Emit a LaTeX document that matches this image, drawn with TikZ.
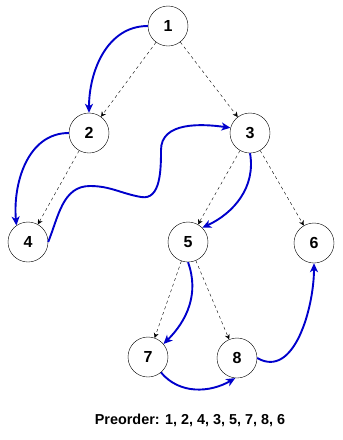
\documentclass[tikz,border=0pt]{standalone}
\usepackage{fontspec}
\setmainfont{Liberation Sans}
\usepackage{tikz}
\usetikzlibrary{arrows.meta}
\definecolor{trvblue}{HTML}{0000CC}
\definecolor{trvink}{HTML}{000000}
\tikzset{
  vtx/.style={circle,draw=trvink,thin,fill=white,minimum size=40pt,inner sep=0pt,
              font=\fontsize{16}{18}\selectfont\bfseries,text=trvink},
  treee/.style={-{Stealth[length=5pt,width=5pt]},thin,dashed,draw=trvink},
  visite/.style={-{Stealth[length=9pt,width=8pt,inset=2.5pt]},line width=1.9pt,draw=trvblue},
  caption/.style={font=\fontsize{14.4}{16}\selectfont\bfseries,text=trvink},
}

\begin{document}
\begin{tikzpicture}[x=1pt,y=-1pt]
  \useasboundingbox (0,0) rectangle (343,440);

  % ---- nodes ----
  \node[vtx] (n1) at (168,26)  {1};
  \node[vtx] (n2) at (89,133)  {2};
  \node[vtx] (n3) at (250,133) {3};
  \node[vtx] (n4) at (28,242)  {4};
  \node[vtx] (n5) at (188,242) {5};
  \node[vtx] (n6) at (314,243) {6};
  \node[vtx] (n7) at (148,357) {7};
  \node[vtx] (n8) at (237,358) {8};

  % ---- tree edges ----
  \draw[treee] (n1) -- (n2);
  \draw[treee] (n1) -- (n3);
  \draw[treee] (n2) -- (n4);
  \draw[treee] (n3) -- (n5);
  \draw[treee] (n3) -- (n6);
  \draw[treee] (n5) -- (n7);
  \draw[treee] (n5) -- (n8);

  % ---- visiting order ----
  \draw[visite] (n1.west) to[out=180,in=90] (n2.north);
  \draw[visite] (n2.west) to[out=180,in=95] (n4.125);
  \draw[visite] (n4.east) to[out=68,in=180] (90,186)
                to[out=0,in=170] (141,197)
                to[out=-10,in=-90] (161,150)
                to[out=90,in=172] (n3.165);
  \draw[visite] (n3.south) to[out=-80,in=25] (n5.45);
  \draw[visite] (n5.south) to[out=-70,in=45] (n7.40);
  \draw[visite] (n7.-50) to[out=-50,in=-150] (n8.-95);
  \draw[visite] (n8.east) to[out=-30,in=-90] (n6.south);

  % ---- caption ----
  \node[caption] (cap) at (190,420) {Preorder: 1, 2, 4, 3, 5, 7, 8, 6};
\end{tikzpicture}
\end{document}
